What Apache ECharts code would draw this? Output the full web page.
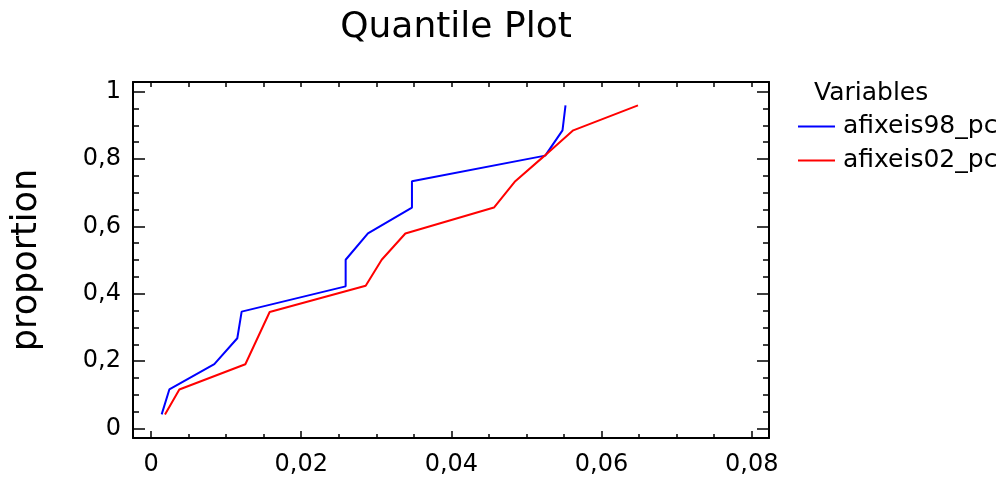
<!DOCTYPE html>
<html>
<head>
<meta charset="utf-8">
<title>Quantile Plot</title>
<script src="https://cdn.jsdelivr.net/npm/echarts@6/dist/echarts.min.js"></script>
<style>
  html, body { margin: 0; padding: 0; background: #fff; }
  #chart { width: 999px; height: 480px; }
</style>
</head>
<body>
<div id="chart"></div>
<script>
// quantile values
var blueX = [0.00142, 0.00244, 0.00843, 0.01149, 0.01207, 0.02592, 0.02592, 0.02889, 0.03475, 0.03475, 0.0525, 0.0548, 0.0552]
var blueY = [0.042, 0.116, 0.191, 0.268, 0.347, 0.422, 0.501, 0.579, 0.656, 0.734, 0.81, 0.885, 0.959]
var redX = [0.00186, 0.00377, 0.01256, 0.0158, 0.02859, 0.03072, 0.03387, 0.04567, 0.04851, 0.05242, 0.05623, 0.06485]
var redY = [0.042, 0.116, 0.191, 0.346, 0.424, 0.501, 0.579, 0.656, 0.734, 0.81, 0.885, 0.959]
var seriesNames = ['afixeis98_pc', 'afixeis02_pc']

// tick labels
var xMajor = [0, 0.02, 0.04, 0.06, 0.08]
var xMinor = [0.005, 0.01, 0.015, 0.025, 0.03, 0.035, 0.045, 0.05, 0.055, 0.065, 0.07, 0.075]
var yMajor = [0, 0.2, 0.4, 0.6, 0.8, 1]
var yMinor = [0.05, 0.1, 0.15, 0.25, 0.3, 0.35, 0.45, 0.5, 0.55, 0.65, 0.7, 0.75, 0.85, 0.9, 0.95]

var FONT = 'DejaVu Sans'
var X_MIN = -0.0024, X_MAX = 0.0823
var Y_MIN = -0.028, Y_MAX = 1.0285

function fmt(v) {
  return String(+v.toFixed(3)).replace('.', ',')
}

function pairs(xs, ys) {
  var out = []
  for (var i = 0; i < xs.length; i++) {
    out.push([xs[i], ys[i]])
  }
  return out
}

// one helper for every axis copy (major / minor ticks, mirrored sides)
function axis(pos, min, max, opt) {
  return {
    type: 'value',
    position: pos,
    min: min,
    max: max,
    splitLine: { show: false },
    axisLine: { show: !!opt.line, onZero: false, lineStyle: { color: '#000', width: 2 } },
    axisTick: {
      show: true,
      inside: true,
      length: opt.len,
      customValues: opt.ticks,
      lineStyle: { color: '#000', width: 1.5 }
    },
    axisLabel: opt.labels ? {
      show: true,
      customValues: opt.ticks,
      formatter: fmt,
      color: '#000',
      fontFamily: FONT,
      fontSize: 24,
      margin: opt.margin
    } : { show: false },
    name: opt.name || '',
    nameLocation: 'middle',
    nameGap: opt.nameGap || 0,
    nameTextStyle: { color: '#000', fontFamily: FONT, fontSize: 35 }
  }
}

var chart = echarts.init(document.getElementById('chart'))
chart.setOption({
  animation: false,
  backgroundColor: '#fff',
  title: [{
    text: 'Quantile Plot',
    left: 451,
    top: 5,
    textAlign: 'center',
    textStyle: { color: '#000', fontFamily: FONT, fontSize: 36, fontWeight: 'normal' }
  }, {
    text: 'Variables',
    left: 809,
    top: 76,
    textStyle: { color: '#000', fontFamily: FONT, fontSize: 25, fontWeight: 'normal' }
  }],
  legend: {
    orient: 'vertical',
    left: 793,
    top: 109,
    itemWidth: 37,
    itemHeight: 2,
    itemGap: 9,
    icon: 'rect',
    textStyle: { color: '#000', fontFamily: FONT, fontSize: 25, padding: [0, 0, 0, 3] },
    data: seriesNames
  },
  grid: { left: 133, top: 82, width: 636, height: 356, containLabel: false },
  xAxis: [
    axis('bottom', X_MIN, X_MAX, { line: true, len: 7, ticks: xMajor, labels: true, margin: 15 }),
    axis('bottom', X_MIN, X_MAX, { len: 4, ticks: xMinor }),
    axis('top', X_MIN, X_MAX, { line: true, len: 5, ticks: xMajor.concat(xMinor) })
  ],
  yAxis: [
    axis('left', Y_MIN, Y_MAX, { line: true, len: 12, ticks: yMajor, labels: true, margin: 12, name: 'proportion', nameGap: 89 }),
    axis('left', Y_MIN, Y_MAX, { len: 6, ticks: yMinor }),
    axis('right', Y_MIN, Y_MAX, { line: true, len: 12, ticks: yMajor }),
    axis('right', Y_MIN, Y_MAX, { len: 6, ticks: yMinor })
  ],
  series: [{
    name: seriesNames[0],
    type: 'line',
    xAxisIndex: 0,
    yAxisIndex: 0,
    symbol: 'none',
    color: '#0000ff',
    lineStyle: { color: '#0000ff', width: 2 },
    data: pairs(blueX, blueY)
  }, {
    name: seriesNames[1],
    type: 'line',
    xAxisIndex: 0,
    yAxisIndex: 0,
    symbol: 'none',
    color: '#ff0000',
    lineStyle: { color: '#ff0000', width: 2 },
    data: pairs(redX, redY)
  }]
})
</script>
</body>
</html>
